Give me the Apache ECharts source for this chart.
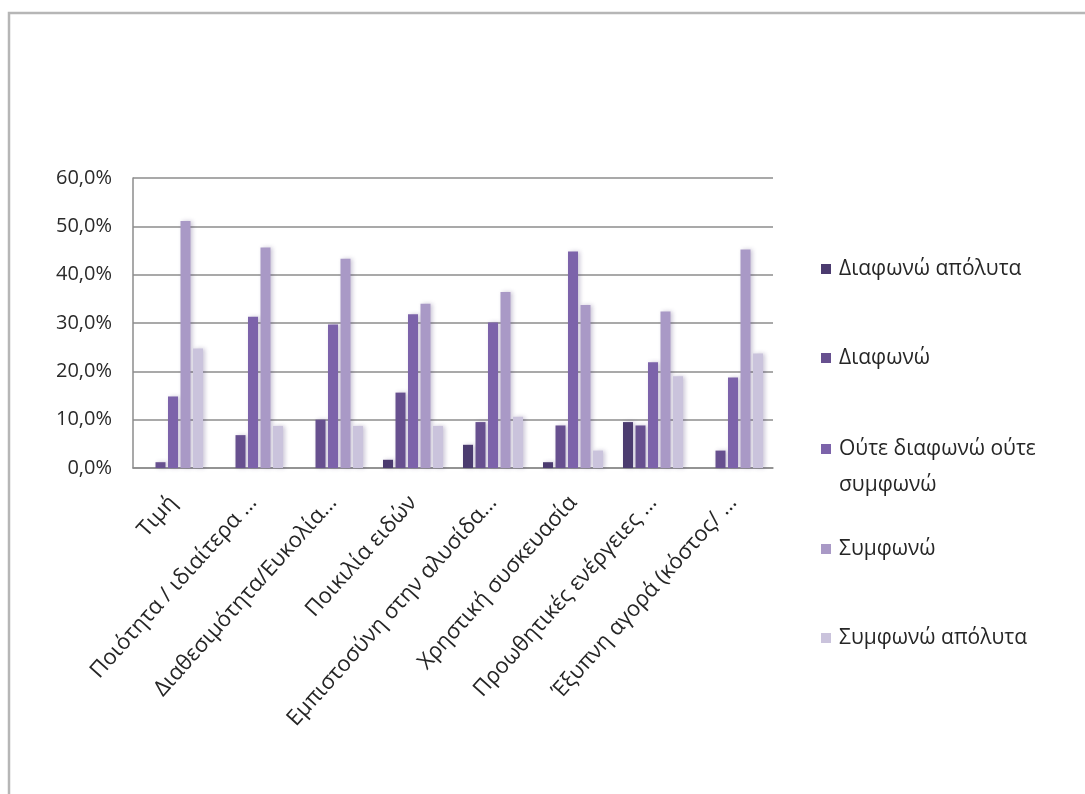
<!DOCTYPE html>
<html>
<head>
<meta charset="utf-8">
<title>Κριτήρια επιλογής</title>
<script src="https://cdn.jsdelivr.net/npm/echarts@6/dist/echarts.min.js"></script>
<style>
  html, body { margin: 0; padding: 0; background: #ffffff; }
  #chart { width: 1085px; height: 794px; }
</style>
</head>
<body>
<div id="chart"></div>
<script>
// Κατηγορίες (άξονας Χ)
const categories = [
  'Τιμή',
  'Ποιότητα / ιδιαίτερα ...',
  'Διαθεσιμότητα/Ευκολία...',
  'Ποικιλία ειδών',
  'Εμπιστοσύνη στην αλυσίδα...',
  'Χρηστική συσκευασία',
  'Προωθητικές ενέργειες ...',
  'Έξυπνη αγορά (κόστος/ ...'
];

// Ονόματα σειρών (υπόμνημα)
const seriesNames = [
  'Διαφωνώ απόλυτα',
  'Διαφωνώ',
  'Ούτε διαφωνώ ούτε συμφωνώ',
  'Συμφωνώ',
  'Συμφωνώ απόλυτα'
];

// Ποσοστά ανά κατηγορία (%)
const diafonoApolyta   = [0,    0,    0,    1.7,  4.8,  1.2,  9.5,  0];
const diafono          = [1.2,  6.8,  10.0, 15.6, 9.5,  8.8,  8.8,  3.6];
const oute             = [14.8, 31.3, 29.7, 31.8, 30.1, 44.8, 21.9, 18.7];
const symfono          = [51.1, 45.6, 43.3, 34.0, 36.4, 33.7, 32.4, 45.2];
const symfonoApolyta   = [24.7, 8.7,  8.7,  8.7,  10.6, 3.6,  19.0, 23.7];

// Τιμές άξονα Υ
const yTicks = [0, 10, 20, 30, 40, 50, 60];

const seriesValues = [diafonoApolyta, diafono, oute, symfono, symfonoApolyta];
const colors = ['#4b3b6f', '#67508f', '#7c63aa', '#a999c6', '#cac3dc'];

const FONT = '"Open Sans", "Noto Sans", sans-serif';

const chart = echarts.init(document.getElementById('chart'), null, { renderer: 'canvas' });

// Ένα υπόμνημα ανά σειρά, ώστε κάθε γραμμή να τοποθετείται ανεξάρτητα.
// Το δίγραμμο στοιχείο έχει ψηλό εικονίδιο με το τετράγωνο στην κορυφή,
// ώστε το τετράγωνο να ευθυγραμμίζεται με την πρώτη γραμμή του κειμένου.
const legendTops = [251, 340, 431, 531, 620];
const legends = seriesNames.map((name, i) => {
  const twoLine = i === 2;
  return {
    show: true,
    orient: 'vertical',
    left: 821,
    top: legendTops[i],
    padding: 0,
    itemWidth: 10,
    itemHeight: twoLine ? 46 : 10,
    icon: twoLine ? 'path://M0,0 L10,0 L10,10 L0,10 Z M0,46 L0.01,46 Z' : 'rect',
    selectedMode: false,
    data: [name],
    formatter: twoLine ? () => 'Ούτε διαφωνώ ούτε\nσυμφωνώ' : undefined,
    textStyle: {
      fontFamily: FONT,
      fontSize: 21,
      color: '#262626',
      lineHeight: 36,
      padding: [0, 0, 0, 3]
    }
  };
});

const option = {
  backgroundColor: '#ffffff',
  animation: false,
  color: colors,
  graphic: [{
    type: 'rect',
    shape: { x: 9, y: 13, width: 1200, height: 900 },
    style: { fill: 'none', stroke: '#b6b6b6', lineWidth: 2.5 },
    silent: true,
    z: 100
  }],
  legend: legends,
  grid: {
    left: 133,
    right: 312,
    top: 178,
    bottom: 326,
    containLabel: false
  },
  xAxis: {
    type: 'category',
    data: categories,
    axisLine: { show: true, lineStyle: { color: '#8c8c8c', width: 1.5 } },
    axisTick: { show: false },
    axisLabel: {
      interval: 0,
      rotate: 48,
      margin: 31,
      fontFamily: FONT,
      fontSize: 22,
      color: '#262626'
    },
    splitLine: { show: false }
  },
  yAxis: {
    type: 'value',
    min: yTicks[0],
    max: yTicks[yTicks.length - 1],
    interval: yTicks[1] - yTicks[0],
    axisLine: { show: true, lineStyle: { color: '#8c8c8c', width: 1.5 } },
    axisTick: { show: false },
    axisLabel: {
      margin: 21,
      fontFamily: FONT,
      fontSize: 20,
      color: '#2a2a2a',
      formatter: v => v.toFixed(1).replace('.', ',') + '%'
    },
    splitLine: { show: true, lineStyle: { color: '#8c8c8c', width: 1.5 } }
  },
  series: seriesNames.map((name, i) => ({
    name: name,
    type: 'bar',
    data: seriesValues[i],
    barWidth: 10,
    barGap: '25%',
    itemStyle: {
      color: colors[i],
      shadowColor: 'rgba(70, 50, 110, 0.28)',
      shadowBlur: 4,
      shadowOffsetX: 2,
      shadowOffsetY: 0
    }
  }))
};

chart.setOption(option);
</script>
</body>
</html>
